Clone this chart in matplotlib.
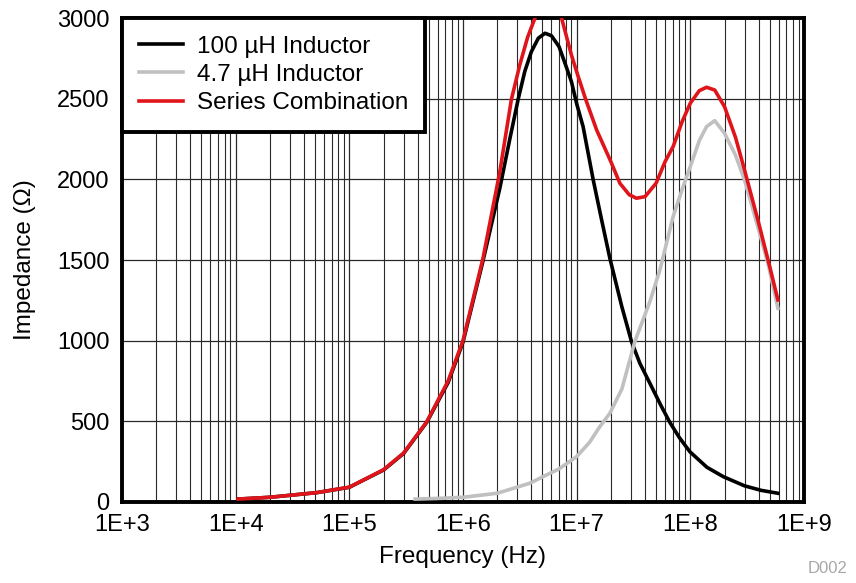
import numpy as np
import matplotlib
matplotlib.use('Agg')
import matplotlib.pyplot as plt
from matplotlib.ticker import LogLocator, NullFormatter

plt.rcParams['font.family'] = ['Liberation Sans', 'DejaVu Sans']

# values (frequency in Hz, impedance in ohm)
f_100u = [1.05e4, 2e4, 5.2e4, 1e5, 2e5, 3e5, 4.8e5, 7.4e5, 1e6, 1.5e6, 2.11e6,
          2.6e6, 3.06e6, 3.5e6, 4e6, 4.6e6, 5.27e6, 6e6, 7e6, 8e6, 9e6, 1e7,
          1.14e7, 1.4e7, 1.66e7, 1.96e7, 2.5e7, 3.04e7, 3.6e7, 4.41e7, 5.5e7,
          6.6e7, 8e7, 9.9e7, 1.4e8, 1.95e8, 3e8, 4.2e8, 5.9e8]
z_100u = [18, 29, 58, 91, 198, 300, 494, 740, 990, 1494, 1945,
          2260, 2497, 2670, 2792, 2875, 2906, 2891, 2823, 2709, 2606, 2470,
          2327, 1996, 1748, 1511, 1210, 994, 860, 736, 600,
          494, 400, 312, 215, 157, 100, 72, 54]

f_4u7 = [3.8e5, 6e5, 1e6, 2e6, 3.87e6, 5.07e6, 7e6, 1e7, 1.3e7, 1.6e7, 1.96e7,
         2.5e7, 3.25e7, 4.4e7, 5.4e7, 7.06e7, 8.5e7, 1e8, 1.2e8, 1.39e8,
         1.64e8, 2e8, 2.5e8, 3e8, 4e8, 4.9e8, 5.9e8]
z_4u7 = [18, 22, 29, 54, 116, 157, 205, 281, 370, 467, 550,
         700, 994, 1240, 1438, 1769, 1940, 2079, 2240, 2327,
         2364, 2286, 2150, 1996, 1686, 1459, 1201]

f_series = [1.05e4, 2e4, 5.2e4, 1e5, 2e5, 3e5, 4.8e5, 7.4e5, 1e6, 1.5e6, 2.11e6,
            2.67e6, 3.16e6, 3.7e6, 4.3e6, 5e6, 5.7e6, 6.5e6, 7.37e6, 9e6, 1e7,
            1.2e7, 1.5e7, 2e7, 2.4e7, 2.9e7, 3.36e7, 4e7, 5e7, 6e7, 7.06e7,
            8.5e7, 1e8, 1.2e8, 1.39e8, 1.64e8, 2e8, 2.5e8, 3e8, 4e8, 5e8, 5.9e8]
z_series = [18, 29, 58, 92, 200, 303, 497, 750, 1000, 1510, 2048,
            2497, 2709, 2880, 3000, 3100, 3130, 3090, 3000, 2771, 2668,
            2497, 2306, 2110, 1976, 1905, 1883, 1893, 1976, 2110, 2203,
            2360, 2472, 2550, 2571, 2554, 2451, 2260, 2058, 1728, 1459, 1252]

fig = plt.figure(figsize=(8.56, 5.83), dpi=100)
ax = fig.add_axes([0.1425, 0.139, 0.7967, 0.830])

ax.plot(f_100u, z_100u, color='black', lw=2.6, label='100 µH Inductor', zorder=3)
ax.plot(f_4u7, z_4u7, color='#c0c0c0', lw=2.6, label='4.7 µH Inductor', zorder=3)
ax.plot(f_series, z_series, color='#e0151b', lw=2.6, label='Series Combination', zorder=4)

ax.set_xscale('log')
ax.set_xlim(1e3, 1e9)
ax.set_ylim(0, 3000)
ax.set_xticks([1e3, 1e4, 1e5, 1e6, 1e7, 1e8, 1e9])
ax.set_xticklabels(['1E+3', '1E+4', '1E+5', '1E+6', '1E+7', '1E+8', '1E+9'])
ax.xaxis.set_minor_locator(LogLocator(base=10, subs=np.arange(2, 10), numticks=20))
ax.xaxis.set_minor_formatter(NullFormatter())
ax.set_yticks(np.arange(0, 3001, 500))

ax.grid(True, which='major', color='#2a2a2a', lw=0.9)
ax.grid(True, which='minor', axis='x', color='#2a2a2a', lw=0.8)
ax.tick_params(which='both', length=0, labelsize=17, pad=9)
for s in ax.spines.values():
    s.set_linewidth(2.8)

ax.set_xlabel('Frequency (Hz)', fontsize=17.5, labelpad=7)
ax.set_ylabel('Impedance (Ω)', fontsize=17.5, labelpad=15)

leg = ax.legend(loc='upper left', fontsize=17.5, borderaxespad=0, fancybox=False,
                framealpha=1, edgecolor='black', handlelength=1.8,
                labelspacing=0.26, borderpad=0.72, handletextpad=0.55)
leg.get_frame().set_linewidth(2.8)
leg.set_zorder(10)

fig.text(0.99, 0.012, 'D002', fontsize=12, color='#a8a8a8', ha='right', va='bottom')

fig.savefig('out.png', dpi=100)
